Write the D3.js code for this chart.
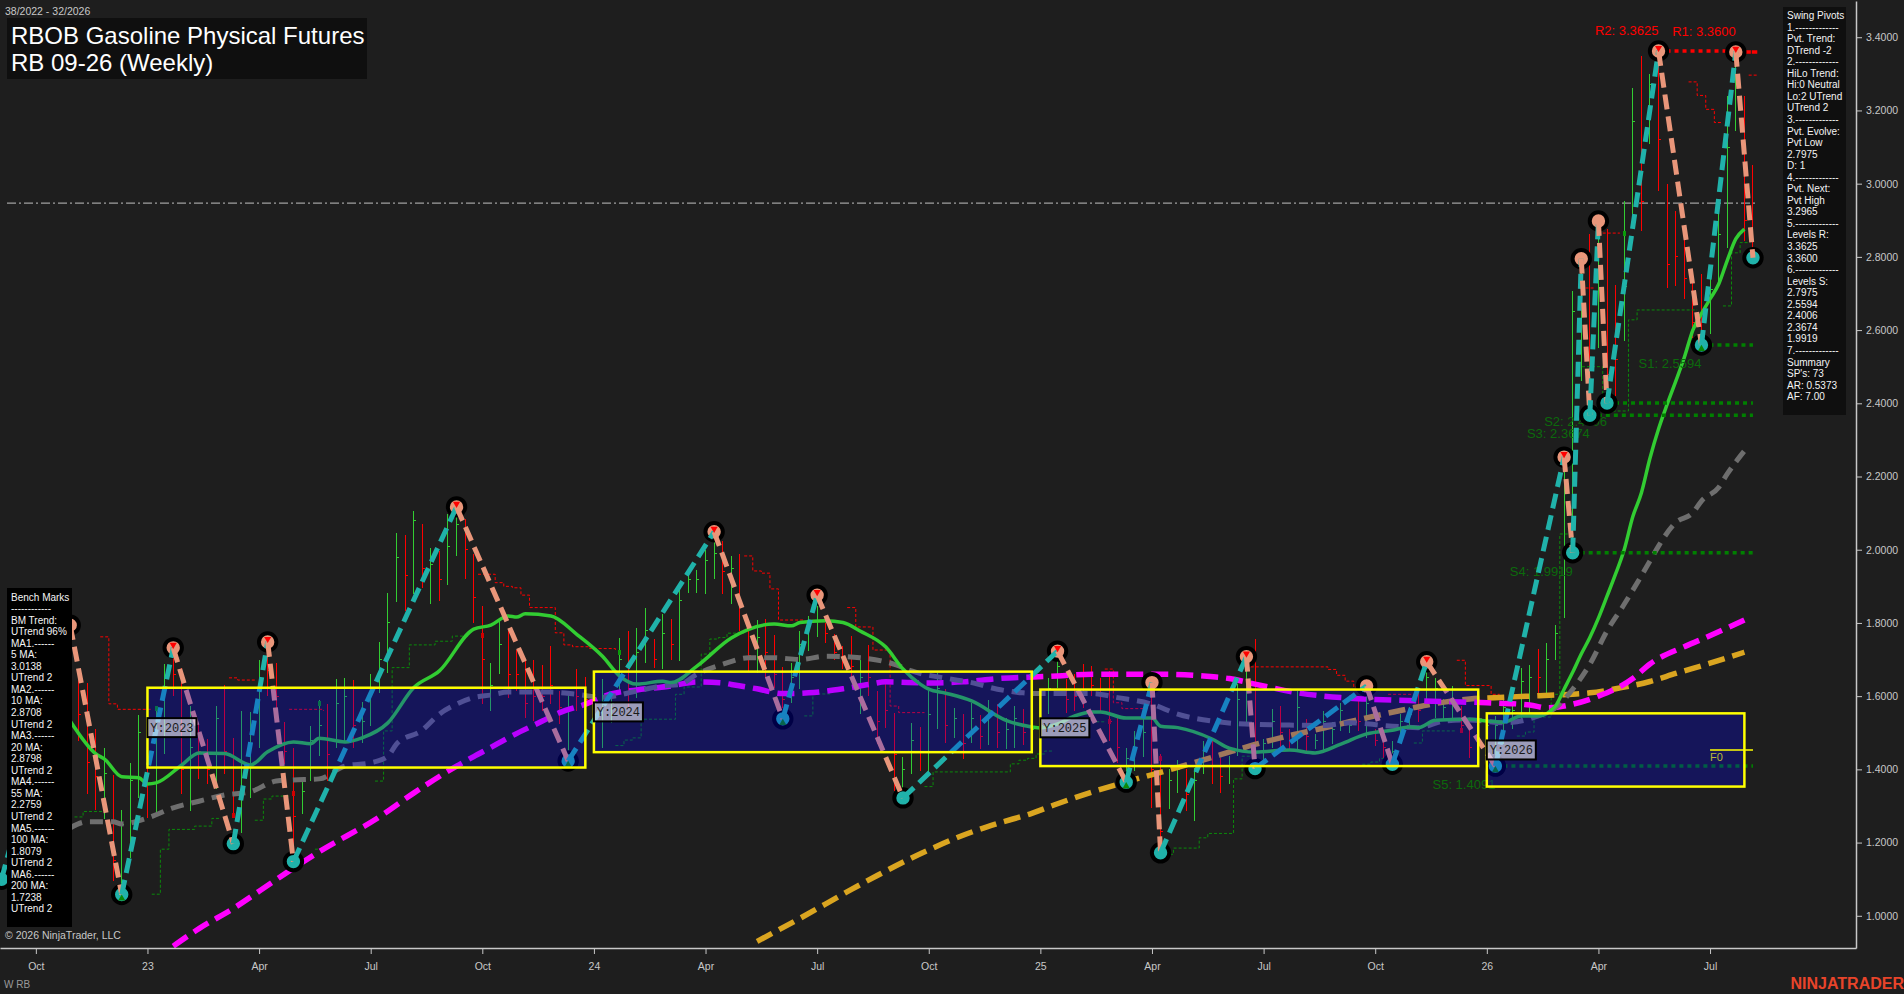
<!DOCTYPE html>
<html>
<head>
<meta charset="utf-8">
<title>RB 09-26 (Weekly)</title>
<script src="https://d3js.org/d3.v7.min.js"></script>
<style>
  body { margin: 0; background: #1e1e1e; overflow: hidden; }
  text { font-family: "Liberation Sans", Arial, sans-serif; }
</style>
</head>
<body>
<svg id="chart" width="1904" height="994"></svg>
<script>
// weekly bars, first bar is week 8 of the chart, the ones before sit behind the bench box
var firstBarWeek = 8;
var barHigh = [
  1.65,1.637,1.51,1.459,1.384,1.289,1.418,1.548,1.404,1.568,
  1.687,1.732,1.678,1.573,1.524,1.483,1.573,1.63,1.486,1.559,
  1.557,1.699,1.748,1.691,1.529,1.459,1.368,1.518,1.589,1.578,
  1.647,1.65,1.644,1.584,1.66,1.748,1.882,2.045,2.04,2.106,
  2.07,2.005,1.996,2.097,2.117,2.084,1.988,1.846,1.69,1.805,
  1.78,1.726,1.70,1.70,1.685,1.737,1.614,1.614,1.674,1.652,
  1.62,1.647,1.614,1.76,1.778,1.787,1.841,1.756,1.824,1.81,
  1.91,1.942,1.944,2.0,2.049,2.024,1.982,1.988,1.778,1.808,
  1.81,1.767,1.679,1.691,1.778,1.819,1.876,1.80,1.77,1.737,
  1.764,1.70,1.74,1.614,1.636,1.554,1.434,1.527,1.516,1.614,
  1.664,1.619,1.568,1.55,1.582,1.548,1.59,1.578,1.54,1.573,
  1.565,1.537,1.55,1.65,1.723,1.647,1.66,1.689,1.682,1.649,
  1.668,1.541,1.458,1.505,1.537,1.641,1.442,1.40,1.425,1.40,
  1.404,1.477,1.477,1.432,1.436,1.633,1.708,1.756,1.484,1.565,
  1.573,1.51,1.614,1.537,1.496,1.56,1.53,1.582,1.53,1.586,
  1.628,1.51,1.50,1.477,1.551,1.57,1.62,1.694,1.65,1.592,
  1.628,1.573,1.51,1.50,1.54,1.546,1.60,1.587,1.677,1.685,
  1.729,1.745,1.795,2.253,2.706,2.795,2.863,2.898,2.876,2.723,
  2.953,3.26,3.348,3.30,3.3625,2.999,2.926,2.857,2.753,2.753,
  2.767,2.947,3.24,3.36,3.24,3.05
];
var barLow = [
  1.477,1.332,1.29,1.264,1.095,1.058,1.158,1.322,1.268,1.278,
  1.442,1.60,1.332,1.286,1.373,1.36,1.346,1.387,1.268,1.227,
  1.322,1.459,1.60,1.559,1.414,1.186,1.278,1.368,1.436,1.368,
  1.459,1.477,1.459,1.473,1.518,1.609,1.664,1.858,1.833,1.878,
  1.896,1.852,1.86,1.903,1.983,1.92,1.80,1.579,1.559,1.66,
  1.596,1.614,1.541,1.532,1.559,1.578,1.524,1.423,1.559,1.532,
  1.48,1.459,1.527,1.605,1.568,1.596,1.691,1.678,1.674,1.70,
  1.696,1.882,1.882,1.88,1.92,1.88,1.852,1.778,1.669,1.664,
  1.65,1.623,1.538,1.582,1.62,1.723,1.762,1.746,1.70,1.674,
  1.641,1.551,1.60,1.469,1.514,1.341,1.322,1.387,1.395,1.391,
  1.51,1.473,1.486,1.428,1.473,1.455,1.466,1.458,1.455,1.459,
  1.466,1.469,1.48,1.551,1.623,1.555,1.559,1.568,1.60,1.555,
  1.477,1.418,1.365,1.395,1.434,1.295,1.172,1.291,1.336,1.286,
  1.258,1.387,1.36,1.336,1.36,1.436,1.52,1.402,1.41,1.459,
  1.459,1.452,1.45,1.45,1.455,1.45,1.47,1.505,1.50,1.505,
  1.486,1.464,1.432,1.414,1.477,1.51,1.53,1.587,1.54,1.532,
  1.532,1.505,1.431,1.44,1.47,1.409,1.47,1.51,1.532,1.551,
  1.609,1.606,1.70,1.813,1.992,2.46,2.367,2.55,2.4006,2.42,
  2.57,2.917,2.871,3.108,2.98,2.715,2.72,2.685,2.578,2.5594,
  2.589,2.725,2.824,3.144,2.843,2.7975
];
var barClose = [
  1.55,1.42,1.38,1.39,1.15,1.25,1.37,1.50,1.36,1.53,
  1.65,1.66,1.40,1.46,1.45,1.40,1.54,1.45,1.33,1.42,
  1.50,1.64,1.67,1.60,1.45,1.27,1.34,1.48,1.52,1.44,
  1.58,1.60,1.52,1.53,1.62,1.70,1.80,1.98,1.93,2.08,
  1.95,1.96,1.92,2.01,2.07,2.00,1.87,1.70,1.63,1.74,
  1.66,1.66,1.58,1.60,1.60,1.63,1.57,1.56,1.60,1.59,
  1.58,1.60,1.58,1.70,1.64,1.72,1.78,1.70,1.77,1.74,
  1.86,1.92,1.92,1.97,1.99,1.94,1.95,1.85,1.71,1.76,
  1.72,1.66,1.59,1.65,1.74,1.79,1.85,1.77,1.72,1.70,
  1.68,1.65,1.65,1.53,1.56,1.44,1.40,1.48,1.45,1.55,
  1.62,1.52,1.54,1.47,1.54,1.49,1.55,1.50,1.51,1.54,
  1.50,1.51,1.52,1.62,1.68,1.59,1.60,1.61,1.63,1.60,
  1.53,1.46,1.43,1.46,1.50,1.40,1.23,1.37,1.40,1.33,
  1.37,1.45,1.41,1.38,1.41,1.59,1.67,1.45,1.47,1.53,
  1.50,1.48,1.57,1.49,1.48,1.53,1.51,1.56,1.52,1.53,
  1.58,1.48,1.46,1.45,1.53,1.55,1.56,1.65,1.62,1.57,
  1.59,1.52,1.46,1.47,1.52,1.52,1.57,1.56,1.64,1.65,
  1.65,1.70,1.77,2.18,2.65,2.72,2.50,2.82,2.48,2.52,
  2.72,3.17,2.95,3.27,3.12,2.78,2.80,2.74,2.62,2.59,
  2.71,2.86,3.10,3.33,2.90,2.81
];
var barUp = [
  0,0,0,1,0,1,1,1,0,1,
  1,0,0,1,0,0,1,0,0,1,
  1,1,0,0,0,0,1,1,1,0,
  1,1,0,1,1,1,1,1,0,1,
  0,1,0,1,1,0,0,0,1,1,
  0,0,0,0,0,0,0,1,0,0,
  1,1,1,1,0,1,1,0,1,0,
  1,1,1,1,1,0,1,0,0,1,
  0,0,0,1,1,1,1,0,0,0,
  0,1,0,0,0,0,1,1,0,1,
  1,0,1,0,1,0,1,0,1,1,
  0,1,1,1,1,0,0,0,0,0,
  0,0,1,1,1,0,0,1,1,0,
  1,1,0,0,1,1,1,0,1,1,
  0,0,1,0,1,1,1,1,1,0,
  1,0,0,1,1,1,0,1,1,1,
  1,0,0,0,1,1,1,1,1,1,
  0,1,1,1,1,1,0,1,0,0,
  1,1,0,1,0,0,0,0,0,0,
  1,1,1,1,0,0
];
// bars with open and close so close they show a small block
var blockWeeks = [17, 26, 33, 36, 55, 71, 128, 134, 169, 188, 203];
var blockPrices = [1.566, 1.275, 1.335, 1.58, 1.765, 1.72, 1.53, 1.43, 1.505, 2.865, 2.7975];

// swing pivots, alternate low / high, starts on a low
var swingWeeks = [-1,7,13,19,26,30,33,52,65,82,90,94,104,122,130,133,134,144,145,158,161,165,173,181,182,183,184,185,186,192,197,201,203];
var swingPrices = [1.1,1.794,1.058,1.732,1.197,1.748,1.148,2.117,1.423,2.049,1.538,1.876,1.322,1.723,1.365,1.637,1.172,1.708,1.402,1.628,1.414,1.694,1.409,2.253,1.9919,2.795,2.3674,2.898,2.4006,3.3625,2.5594,3.36,2.7975];
var redArrowWeeks = [19,30,52,82,94,122,144,165,181,192,201];
var greenArrowWeeks = [13,65,90,130,173,197];

// moving averages
var ma10Weeks = [7,10,11,13,15,16,17,20,22,25,28,30,33,35,36,39,41,44,47,50,54,56,58,59,60,63,66,69,71,73,76,77,80,84,89,91,92,95,97,99,102,104,106,107,109,112,116,119,120,122,124,126,127,130,133,134,136,140,142,145,149,152,155,158,161,163,164,166,170,172,174,176,178,180,181,182,183,184,185,186,187,188,189,190,191,192,193,194,195,196,197,198,199,200,201,202];
var ma10Prices = [1.532,1.442,1.428,1.38,1.377,1.36,1.363,1.412,1.445,1.443,1.412,1.448,1.475,1.47,1.485,1.475,1.486,1.527,1.623,1.669,1.783,1.794,1.819,1.816,1.825,1.819,1.769,1.709,1.655,1.633,1.641,1.637,1.682,1.759,1.797,1.792,1.801,1.806,1.801,1.778,1.734,1.674,1.633,1.619,1.608,1.587,1.534,1.516,1.513,1.524,1.546,1.557,1.557,1.54,1.54,1.518,1.514,1.483,1.458,1.447,1.453,1.445,1.469,1.497,1.507,1.516,1.514,1.534,1.537,1.532,1.529,1.546,1.546,1.573,1.619,1.665,1.715,1.76,1.813,1.873,1.934,2.0,2.09,2.155,2.25,2.33,2.397,2.46,2.525,2.60,2.645,2.685,2.725,2.79,2.849,2.876];
var ma55Weeks = [7,9,12,13,16,19,22,25,28,31,33,36,39,42,44,45,48,50,52,54,56,58,63,66,69,73,76,78,80,83,86,89,92,95,99,103,105,110,112,115,118,120,126,129,133,136,140,143,149,153,156,161,164,167,170,174,178,180,182,184,186,188,191,192,194,196,197,199,200,202];
var ma55Prices = [1.24,1.257,1.257,1.251,1.267,1.295,1.313,1.33,1.339,1.368,1.371,1.374,1.409,1.418,1.436,1.469,1.507,1.551,1.578,1.596,1.603,1.611,1.611,1.605,1.597,1.614,1.628,1.632,1.66,1.687,1.705,1.705,1.70,1.709,1.705,1.687,1.669,1.645,1.637,1.619,1.609,1.607,1.607,1.596,1.578,1.551,1.532,1.525,1.521,1.52,1.527,1.518,1.514,1.532,1.535,1.527,1.546,1.568,1.619,1.687,1.778,1.851,1.969,2.01,2.074,2.101,2.133,2.17,2.207,2.27];
var ma100Weeks = [19,22,26,29,33,36,43,47,51,54,56,58,62,64,67,70,73,77,80,83,84,87,90,93,97,100,102,107,111,115,122,126,130,134,139,142,145,150,155,158,164,169,172,177,179,182,185,189,191,195,197,202];
var ma100Prices = [0.917,0.965,1.02,1.067,1.13,1.175,1.27,1.335,1.395,1.435,1.46,1.486,1.532,1.555,1.578,1.606,1.617,1.628,1.639,1.636,1.632,1.62,1.607,1.609,1.62,1.632,1.639,1.636,1.639,1.648,1.655,1.66,1.66,1.66,1.655,1.648,1.633,1.609,1.596,1.592,1.587,1.584,1.582,1.576,1.568,1.578,1.60,1.648,1.688,1.735,1.755,1.808];
var ma200Weeks = [87,92,98,101,105,107,111,115,119,122,126,130,134,137,141,145,149,153,156,159,163,166,170,174,177,180,184,187,191,194,198,202];
var ma200Prices = [0.93,0.993,1.072,1.11,1.158,1.18,1.22,1.252,1.28,1.306,1.338,1.366,1.392,1.412,1.44,1.468,1.492,1.513,1.53,1.546,1.566,1.58,1.592,1.597,1.60,1.603,1.609,1.62,1.64,1.662,1.69,1.72];

// thin stepped resistance / support traces, each piece is [week, price] pairs
var resistSteps = [
  [[11,1.762],[12,1.579],[13,1.564],[17,1.564]],
  [[26,1.65],[27,1.644],[29,1.64]],
  [[33,1.564],[37,1.56]],
  [[55,1.933],[57,1.91],[58,1.90],[59,1.896],[60,1.876],[61,1.842],[64,1.773],[65,1.74],[66,1.735],[68,1.73],[71,1.723]],
  [[86,1.983],[87,1.942],[88,1.936],[89,1.893],[90,1.808],[93,1.808]],
  [[98,1.842],[99,1.789],[101,1.726],[103,1.573],[104,1.555],[107,1.555]],
  [[128,1.674],[129,1.582],[130,1.566],[133,1.566]],
  [[145,1.68],[154,1.673],[155,1.657],[156,1.641],[157,1.625],[159,1.625]],
  [[161,1.605],[164,1.6]],
  [[169,1.698],[170,1.629],[173,1.605],[174,1.605]],
  [[182,2.245],[183,2.245]],
  [[184,2.715],[185,2.715]],
  [[186,2.865],[188,2.865]],
  [[196,3.278],[197,3.241],[198,3.203],[199,3.167],[200,3.167]],
  [[203,3.2965],[204,3.2965]]
];
var supportSteps = [
  [[8,1.27],[9,1.285],[12,1.286]],
  [[17,1.059],[18,1.182],[19,1.236],[22,1.245],[24,1.266],[25,1.268]],
  [[29,1.261],[30,1.319],[31,1.327],[33,1.33]],
  [[36,1.182],[37,1.182]],
  [[43,1.368],[44,1.505],[45,1.678],[47,1.74],[50,1.75],[52,1.764],[54,1.764]],
  [[71,1.465],[72,1.48],[73,1.486],[74,1.537],[78,1.605],[79,1.625],[81,1.715],[82,1.756],[83,1.76],[84,1.772],[86,1.772]],
  [[93,1.546],[94,1.606],[96,1.61]],
  [[107,1.353],[108,1.393],[117,1.415],[118,1.425],[119,1.43],[120,1.442],[121,1.45],[122,1.45]],
  [[127,1.53],[128,1.53]],
  [[135,1.168],[136,1.185],[139,1.213],[140,1.225],[143,1.374],[144,1.436],[145,1.436]],
  [[158,1.414],[159,1.42],[160,1.43],[162,1.44]],
  [[164,1.472],[165,1.505],[169,1.505]],
  [[176,1.491],[177,1.502],[178,1.543],[180,1.605],[181,2.043],[182,2.043]],
  [[183,2.5],[186,2.379],[189,2.628],[190,2.655],[197,2.655]],
  [[200,2.666],[201,2.811],[202,2.839],[203,2.839]]
];

// dotted level lines and their labels
var supportNames = ["S1: 2.5594","S2: 2.4006","S3: 2.3674","S4: 1.9919","S5: 1.4091"];
var supportLevels = [2.5594,2.4006,2.3674,1.9919,1.4091];
var supportStart = [197,186,184,182,173];
var supportEnd = 203;
var resistNames = ["R2: 3.3625","R1: 3.3600"];
var resistLevels = [3.3625,3.36];
var resistStart = [192,201];
var resistEnd = [201,203.5];
var closeGuide = 2.947;
var closeGuideEnd = 203.4;

// yearly range boxes
var yearNames = ["Y:2023","Y:2024","Y:2025","Y:2026"];
var yearStart = [16,68,120,172];
var yearEnd = [67,119,171,202];
var yearTop = [1.623,1.667,1.618,1.553];
var yearBottom = [1.405,1.447,1.409,1.353];
var f0Price = 1.453;
var f0Weeks = [198,203];

// axes
var xTickWeeks = [3,16,29,42,55,68,81,94,107,120,133,146,159,172,185,198];
var xTickNames = ["Oct","23","Apr","Jul","Oct","24","Apr","Jul","Oct","25","Apr","Jul","Oct","26","Apr","Jul"];
var yTicks = [1,1.2,1.4,1.6,1.8,2,2.2,2.4,2.6,2.8,3,3.2,3.4];

var benchLines = ["Bench Marks","------------","BM Trend:","UTrend 96%","MA1.------","5 MA:","3.0138","UTrend 2","MA2.------","10 MA:","2.8708","UTrend 2","MA3.------","20 MA:","2.8798","UTrend 2","MA4.------","55 MA:","2.2759","UTrend 2","MA5.------","100 MA:","1.8079","UTrend 2","MA6.------","200 MA:","1.7238","UTrend 2"];
var pivotLines = ["Swing Pivots","1.-------------","Pvt. Trend:","DTrend -2","2.-------------","HiLo Trend:","Hi:0 Neutral","Lo:2 UTrend","UTrend 2","3.-------------","Pvt. Evolve:","Pvt Low","2.7975","D: 1","4.-------------","Pvt. Next:","Pvt High","3.2965","5.-------------","Levels R:","3.3625","3.3600","6.-------------","Levels S:","2.7975","2.5594","2.4006","2.3674","1.9919","7.-------------","Summary","SP's: 73","AR: 0.5373","AF: 7.00"];

var RED = "#ff0000", GREEN = "#32cd32", TEAL = "#20b2aa", SALMON = "#e9967a";

var svg = d3.select("#chart");
var x = d3.scaleLinear().domain([-1.176, 215]).range([0, 1856]);
var y = d3.scaleLinear().domain([0.912, 3.499]).range([948, 1]);

svg.append("defs").append("clipPath").attr("id", "plot")
  .append("rect").attr("x", 0).attr("y", 0).attr("width", 1856).attr("height", 948);

var plot = svg.append("g").attr("clip-path", "url(#plot)");

plot.append("line")
  .attr("x1", 7).attr("x2", x(closeGuideEnd))
  .attr("y1", y(closeGuide)).attr("y2", y(closeGuide))
  .attr("stroke", "#a0a0a0").attr("stroke-width", 1.2)
  .attr("stroke-dasharray", "9,3,2,3");

// bars
var bars = plot.append("g").attr("shape-rendering", "crispEdges");
barHigh.forEach(function(high, i) {
  var week = firstBarWeek + i;
  var color = barUp[i] ? GREEN : RED;
  bars.append("line")
    .attr("x1", x(week)).attr("x2", x(week))
    .attr("y1", y(high)).attr("y2", y(barLow[i]))
    .attr("stroke", color).attr("stroke-width", 1);
  bars.append("line")
    .attr("x1", x(week)).attr("x2", x(week) + 2.5)
    .attr("y1", y(barClose[i])).attr("y2", y(barClose[i]))
    .attr("stroke", color).attr("stroke-width", 1);
});
blockWeeks.forEach(function(week, i) {
  var up = barUp[week - firstBarWeek];
  bars.append("rect")
    .attr("x", x(week) - 1.5).attr("y", y(blockPrices[i]) - 2.5)
    .attr("width", 3).attr("height", 5)
    .attr("fill", up ? "#0a9a0a" : "#d00000");
});

// stepped traces, a value holds from half a bar before its week
var stepLine = d3.line()
  .x(function(d) { return x(d[0] - 0.5); })
  .y(function(d) { return y(d[1]); })
  .curve(d3.curveStepAfter);
function drawSteps(pieces, color) {
  plot.append("g").selectAll("path").data(pieces).enter().append("path")
    .attr("d", stepLine)
    .attr("fill", "none")
    .attr("stroke", color).attr("stroke-width", 1)
    .attr("stroke-dasharray", "3,2");
}
drawSteps(resistSteps, RED);
drawSteps(supportSteps, "#0b8a0b");

// moving averages
function drawMA(weeks, prices, color, width, dash) {
  var line = d3.line()
    .x(function(d) { return x(d); })
    .y(function(d, i) { return y(prices[i]); })
    .curve(d3.curveMonotoneX);
  plot.append("path")
    .attr("d", line(weeks))
    .attr("fill", "none")
    .attr("stroke", color).attr("stroke-width", width)
    .attr("stroke-dasharray", dash);
}
drawMA(ma200Weeks, ma200Prices, "#daa520", 5.5, "17,8");
drawMA(ma100Weeks, ma100Prices, "#ff00ff", 5.5, "17,8");
drawMA(ma55Weeks, ma55Prices, "#6e6e6e", 5, "13,8");
drawMA(ma10Weeks, ma10Prices, GREEN, 3.5, null);

// dotted levels
supportLevels.forEach(function(level, i) {
  plot.append("line")
    .attr("x1", x(supportStart[i])).attr("x2", x(supportEnd))
    .attr("y1", y(level)).attr("y2", y(level))
    .attr("stroke", "#008000").attr("stroke-width", 3.5)
    .attr("stroke-dasharray", "4,4");
  plot.append("text")
    .attr("x", x(supportStart[i])).attr("y", y(level) + 23)
    .attr("text-anchor", "end")
    .attr("font-size", 13).attr("fill", "#0c6a0c")
    .text(supportNames[i]);
});
resistLevels.forEach(function(level, i) {
  plot.append("line")
    .attr("x1", x(resistStart[i])).attr("x2", x(resistEnd[i]))
    .attr("y1", y(level)).attr("y2", y(level))
    .attr("stroke", RED).attr("stroke-width", 3.5)
    .attr("stroke-dasharray", i == 0 ? "4,4" : "7,1");
  plot.append("text")
    .attr("x", x(resistStart[i])).attr("y", y(level) - 16)
    .attr("text-anchor", "end")
    .attr("font-size", 13).attr("fill", RED)
    .text(resistNames[i]);
});

// pivot dots under the zigzag
swingWeeks.forEach(function(week, i) {
  plot.append("circle")
    .attr("cx", x(week)).attr("cy", y(swingPrices[i]))
    .attr("r", 8.7)
    .attr("fill", i % 2 ? SALMON : TEAL)
    .attr("stroke", "#000").attr("stroke-width", 4);
});

// zigzag legs
for (var i = 1; i < swingWeeks.length; i++) {
  plot.append("line")
    .attr("x1", x(swingWeeks[i - 1])).attr("y1", y(swingPrices[i - 1]))
    .attr("x2", x(swingWeeks[i])).attr("y2", y(swingPrices[i]))
    .attr("stroke", i % 2 ? TEAL : SALMON)
    .attr("stroke-width", 5)
    .attr("stroke-dasharray", "15,7");
}

// little arrows on the pivots
redArrowWeeks.forEach(function(week) {
  var cx = x(week), cy = y(swingPrices[swingWeeks.indexOf(week)]);
  plot.append("path")
    .attr("d", d3.symbol().type(d3.symbolTriangle).size(22))
    .attr("transform", "translate(" + cx + "," + (cy - 3) + ") rotate(180)")
    .attr("fill", RED);
});
greenArrowWeeks.forEach(function(week) {
  var cx = x(week), cy = y(swingPrices[swingWeeks.indexOf(week)]);
  plot.append("path")
    .attr("d", d3.symbol().type(d3.symbolTriangle).size(22))
    .attr("transform", "translate(" + cx + "," + (cy + 4) + ")")
    .attr("fill", "#0a8a0a");
});

// year boxes tint everything under them
yearNames.forEach(function(name, i) {
  var bx = x(yearStart[i]), by = y(yearTop[i]);
  var bw = x(yearEnd[i]) - bx, bh = y(yearBottom[i]) - by;
  plot.append("rect")
    .attr("x", bx).attr("y", by).attr("width", bw).attr("height", bh)
    .attr("fill", "#0000ff").attr("fill-opacity", 0.27);
  plot.append("rect")
    .attr("x", bx).attr("y", by).attr("width", bw).attr("height", bh)
    .attr("fill", "none").attr("stroke", "#ffff00").attr("stroke-width", 2.5);
});
yearNames.forEach(function(name, i) {
  var mid = (y(yearTop[i]) + y(yearBottom[i])) / 2;
  plot.append("rect")
    .attr("x", x(yearStart[i])).attr("y", mid - 9.5)
    .attr("width", 49).attr("height", 19)
    .attr("fill", "#fff").attr("fill-opacity", 0.58)
    .attr("stroke", "#000").attr("stroke-width", 2);
  plot.append("text")
    .attr("x", x(yearStart[i]) + 24.5).attr("y", mid + 4)
    .attr("text-anchor", "middle")
    .style("font-family", "'Liberation Mono', monospace")
    .attr("font-size", 12).attr("fill", "#1a1a1a")
    .text(name);
});

plot.append("line")
  .attr("x1", x(f0Weeks[0])).attr("x2", x(f0Weeks[1]))
  .attr("y1", y(f0Price)).attr("y2", y(f0Price))
  .attr("stroke", "#ffff00").attr("stroke-width", 1.5);
plot.append("text")
  .attr("x", x(f0Weeks[0])).attr("y", y(f0Price) + 11)
  .attr("font-size", 11).attr("fill", "#b8b83c")
  .text("F0");

// axes
var yAxis = d3.axisRight(y).tickValues(yTicks).tickSize(6).tickSizeOuter(0).tickPadding(4)
  .tickFormat(function(d) { return d.toFixed(4); });
var xAxis = d3.axisBottom(x).tickValues(xTickWeeks).tickSize(6).tickSizeOuter(0).tickPadding(9)
  .tickFormat(function(d, i) { return xTickNames[i]; });

svg.append("g").attr("transform", "translate(1856,0)").call(yAxis);
svg.append("g").attr("transform", "translate(0,948)").call(xAxis);
svg.selectAll(".domain").attr("stroke", "#c8c8c8").attr("stroke-width", 1.5);
svg.selectAll(".tick line").attr("stroke", "#c8c8c8");
svg.selectAll(".tick text")
  .attr("fill", "#c8c8c8")
  .attr("font-size", 10.5)
  .style("font-family", "'Liberation Sans', Arial, sans-serif");

// title block
svg.append("rect").attr("x", 7).attr("y", 18).attr("width", 360).attr("height", 61).attr("fill", "#0f0f0f");
svg.append("text").attr("x", 11).attr("y", 43.5).attr("font-size", 24).attr("fill", "#fff").text("RBOB Gasoline Physical Futures");
svg.append("text").attr("x", 11).attr("y", 71).attr("font-size", 24).attr("fill", "#fff").text("RB 09-26 (Weekly)");
svg.append("text").attr("x", 5).attr("y", 15).attr("font-size", 10.5).attr("fill", "#c8c8c8").text("38/2022 - 32/2026");

// side panels
function drawPanel(lines, left, top, width, height, fill, firstBase) {
  svg.append("rect").attr("x", left).attr("y", top).attr("width", width).attr("height", height).attr("fill", fill);
  svg.append("g").selectAll("text").data(lines).enter().append("text")
    .attr("x", left + 4)
    .attr("y", function(d, i) { return firstBase + i * 11.55; })
    .attr("font-size", 10)
    .attr("fill", "#f4f4f4")
    .text(function(d) { return d; });
}
drawPanel(benchLines, 7, 588, 65, 339, "#000", 600.5);
drawPanel(pivotLines, 1783, 7, 63, 408, "#0f0f0f", 19);

svg.append("text").attr("x", 5).attr("y", 939).attr("font-size", 10.5).attr("fill", "#c8c8c8").text("\u00a9 2026 NinjaTrader, LLC");
svg.append("text").attr("x", 4).attr("y", 988).attr("font-size", 10).attr("fill", "#9a9a9a").text("W RB");
svg.append("text").attr("x", 1790.5).attr("y", 989).attr("font-size", 16).attr("font-weight", "bold").attr("fill", "#e8442a").text("NINJATRADER");
</script>
</body>
</html>
